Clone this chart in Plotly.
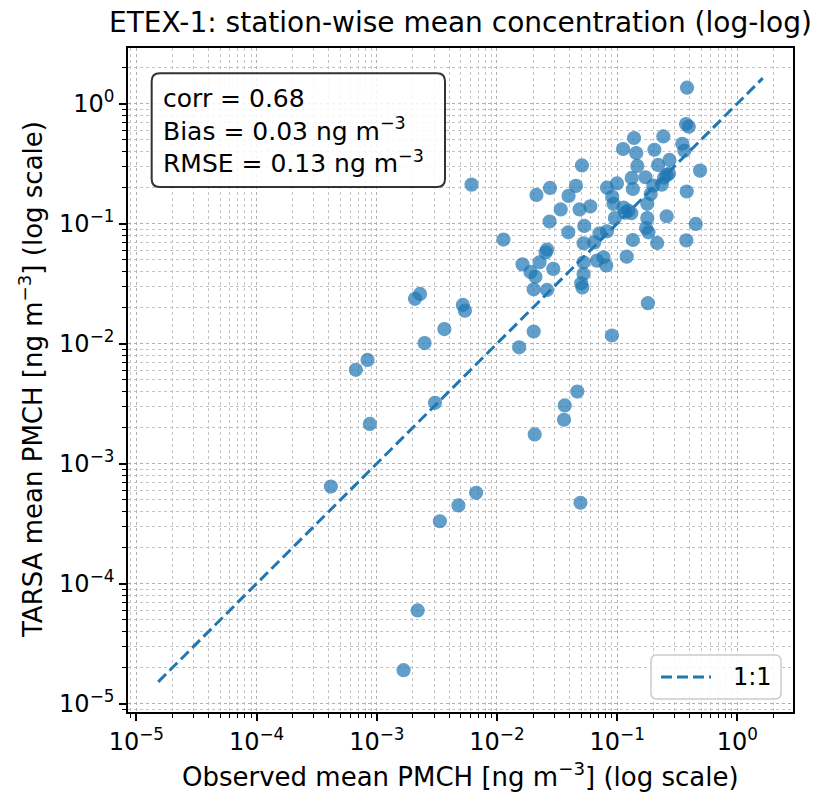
import numpy as np
import plotly.graph_objects as go

# Observed station-wise mean PMCH [ng m-3]
obs = [
    0.381, 0.374, 0.394, 0.138, 0.242, 0.112, 0.144, 0.204, 0.348, 0.362,
    0.272, 0.219, 0.147, 0.0509, 0.489, 0.258, 0.245, 0.270, 0.172, 0.132,
    0.00614, 0.0276, 0.0454, 0.0822, 0.0995, 0.135, 0.200, 0.235, 0.379, 0.0213,
    0.0394, 0.0910, 0.190, 0.0339, 0.0486, 0.0597, 0.0931, 0.113, 0.124, 0.131,
    0.116, 0.178, 0.0274, 0.0957, 0.178, 0.258, 0.450, 0.01132, 0.0392, 0.0532,
    0.0713, 0.0822, 0.174, 0.182, 0.135, 0.215, 0.376, 0.0525, 0.0644, 0.0261,
    0.0254, 0.0163, 0.0226, 0.0190, 0.0209, 0.0294, 0.0525, 0.0679, 0.0769, 0.0811,
    0.120, 0.0525, 0.0502, 0.0513, 0.0202, 0.0261, 0.180,
    0.00208, 0.00229, 0.00520, 0.00541, 0.00365, 0.00250, 0.0153, 0.0202, 0.0904,
    0.000838, 0.000670, 0.00305, 0.000875, 0.0466, 0.0366, 0.0361, 0.0206,
    0.000415, 0.00671, 0.00478, 0.00335, 0.0495, 0.00219, 0.00167,
]

# TARSA modelled station-wise mean PMCH [ng m-3]
model = [
    1.355, 0.675, 0.641, 0.516, 0.532, 0.418, 0.387, 0.412, 0.462, 0.404,
    0.339, 0.308, 0.302, 0.305, 0.276, 0.254, 0.241, 0.260, 0.243, 0.240,
    0.211, 0.198, 0.206, 0.199, 0.216, 0.194, 0.207, 0.211, 0.185, 0.173,
    0.170, 0.167, 0.176, 0.131, 0.131, 0.139, 0.146, 0.136, 0.128, 0.122,
    0.123, 0.146, 0.104, 0.111, 0.111, 0.115, 0.0993, 0.0735, 0.0845, 0.0955,
    0.0828, 0.0861, 0.0918, 0.0845, 0.0729, 0.0689, 0.0724, 0.0684, 0.0697, 0.0607,
    0.0575, 0.0457, 0.0475, 0.0395, 0.0361, 0.0419, 0.0475, 0.0491, 0.0524, 0.0447,
    0.0530, 0.0380, 0.0318, 0.0294, 0.0283, 0.0280, 0.0217,
    0.0236, 0.0259, 0.0210, 0.0188, 0.0132, 0.0101, 0.00931, 0.0126, 0.01167,
    0.00731, 0.00604, 0.00321, 0.00214, 0.00398, 0.00305, 0.00232, 0.00175,
    0.000644, 0.000571, 0.000448, 0.000331, 0.000472, 5.98e-5, 1.90e-5,
]

tick_vals = [1e-5, 1e-4, 1e-3, 1e-2, 1e-1, 1e0]
tick_text = ["10<sup>−5</sup>", "10<sup>−4</sup>", "10<sup>−3</sup>",
             "10<sup>−2</sup>", "10<sup>−1</sup>", "10<sup>0</sup>"]

stats_text = ["corr = 0.68", "Bias = 0.03 ng m<sup>−3</sup>", "RMSE = 0.13 ng m<sup>−3</sup>"]
legend_label = "1:1"

BLUE = "#1f77b4"
FONT = "DejaVu Sans"

lo = min(min(obs), min(model)) * 0.8
hi = max(max(obs), max(model)) * 1.2
llo, lhi = np.log10(lo), np.log10(hi)
pad = 0.05 * (lhi - llo)
rng = [llo - pad, lhi + pad]

# minor (2..9 x 10^k) tick positions for the log axes
minor_vals = [m * 10.0 ** e for e in range(-6, 1) for m in range(2, 10)]

fig = go.Figure()
fig.add_trace(go.Scatter(
    x=obs, y=model, mode="markers", showlegend=False,
    marker=dict(color=BLUE, size=13, opacity=0.7, line=dict(color=BLUE, width=1.2)),
))
fig.add_trace(go.Scatter(
    x=[lo, hi], y=[lo, hi], mode="lines", name=legend_label, showlegend=False,
    line=dict(color=BLUE, width=3, dash="11px,5px"),
))

grid_major = dict(showgrid=True, gridcolor="#b0b0b0", gridwidth=1, griddash="dot")
minor = dict(tickmode="array", tickvals=minor_vals,
             ticks="outside", ticklen=4, tickwidth=1.2, tickcolor="black",
             showgrid=True, gridcolor="#c4c4c4", gridwidth=1, griddash="dot")

axis_common = dict(
    type="log", range=rng, tickmode="array", tickvals=tick_vals, ticktext=tick_text,
    ticks="outside", ticklen=7, tickwidth=1.6, tickcolor="black",
    showline=True, linecolor="black", linewidth=1.6, mirror=True,
    zeroline=False, tickfont=dict(family=FONT, size=24, color="black"),
    minor=minor, **grid_major,
)

fig.update_layout(
    width=838, height=804,
    margin=dict(l=128, r=45, t=48, b=92),
    paper_bgcolor="white", plot_bgcolor="white",
    font=dict(family=FONT, color="black"),
    showlegend=False,
    title=dict(text="ETEX-1: station-wise mean concentration (log-log)",
               font=dict(family=FONT, size=28, color="black"),
               x=0.5, xref="paper", xanchor="center",
               y=1 - 22 / 804, yref="container", yanchor="middle"),
    xaxis=axis_common,
    yaxis=axis_common,
)


def rounded_path(x0, x1, y0, y1, rx, ry):
    return (f"M {x0+rx},{y1} L {x1-rx},{y1} Q {x1},{y1} {x1},{y1-ry} "
            f"L {x1},{y0+ry} Q {x1},{y0} {x1-rx},{y0} L {x0+rx},{y0} "
            f"Q {x0},{y0} {x0},{y0+ry} L {x0},{y1-ry} Q {x0},{y1} {x0+rx},{y1} Z")


# rounded stats box
fig.add_shape(type="path", path=rounded_path(0.0356, 0.4767, 0.7907, 0.9619, 0.012, 0.012),
              xref="paper", yref="paper",
              line=dict(color="#333333", width=2), fillcolor="rgba(255,255,255,0.85)",
              layer="above")
fig.add_annotation(text="<br>".join(stats_text), xref="paper", yref="paper",
                   x=0.0496, y=0.875, xanchor="left", yanchor="middle", align="left",
                   showarrow=False, font=dict(family=FONT, size=25, color="black"))

# legend (matplotlib style, rounded frame)
PW, PH = 665.0, 664.0
def px(x):
    return (x - 128) / PW
def py(y):
    return (712 - y) / PH
fig.add_shape(type="path", path=rounded_path(px(651), px(781), py(699), py(655), 0.009, 0.009),
              xref="paper", yref="paper", line=dict(color="#cccccc", width=1.5),
              fillcolor="rgba(255,255,255,0.85)", layer="above")
fig.add_shape(type="line", xref="paper", yref="paper",
              x0=px(661), x1=px(711), y0=py(677), y1=py(677),
              line=dict(color=BLUE, width=3, dash="11px,5px"), layer="above")
fig.add_annotation(text=legend_label, xref="paper", yref="paper", x=px(731), y=py(677),
                   xanchor="left", yanchor="middle", showarrow=False,
                   font=dict(family=FONT, size=24, color="black"))

# axis titles
fig.add_annotation(text="Observed mean PMCH [ng m<sup>−3</sup>] (log scale)",
                   xref="paper", yref="paper", x=0.5, y=(712 - 775) / 664,
                   xanchor="center", yanchor="middle", showarrow=False,
                   font=dict(family=FONT, size=26, color="black"))
fig.add_annotation(text="TARSA mean PMCH [ng m<sup>−3</sup>] (log scale)",
                   xref="paper", yref="paper", x=(31 - 128) / 665, y=0.5,
                   xanchor="center", yanchor="middle", textangle=-90, showarrow=False,
                   font=dict(family=FONT, size=26, color="black"))

fig.write_html("out.html")
